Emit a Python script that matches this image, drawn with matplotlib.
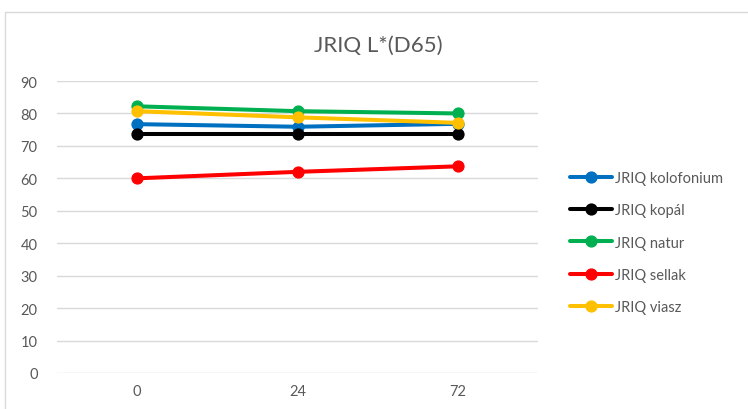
import matplotlib.pyplot as plt
from matplotlib.patches import Rectangle

plt.rcParams['font.family'] = ['Lato', 'DejaVu Sans']

# Adatok
hours = ['0', '24', '72']
kolofonium = [76.7, 75.9, 76.8]
kopal = [73.6, 73.6, 73.6]
natur = [82.2, 80.7, 80.0]
sellak = [60.0, 62.0, 63.7]
viasz = [80.7, 78.8, 77.1]

series = [
    ('JRIQ kolofonium', kolofonium, '#0070C0'),
    ('JRIQ kopál', kopal, '#000000'),
    ('JRIQ natur', natur, '#00B050'),
    ('JRIQ sellak', sellak, '#FF0000'),
    ('JRIQ viasz', viasz, '#FFC000'),
]

fig = plt.figure(figsize=(7.48, 4.10), dpi=100)
fig.patches.append(Rectangle((5 / 748, -0.1), 1.2, 1.1 - 13 / 410,
                             transform=fig.transFigure, fill=False,
                             edgecolor='#D9D9D9', lw=1.0))

ax = fig.add_axes([57 / 748, 1 - 374 / 410, 481 / 748, 292 / 410])
x = range(len(hours))
for name, vals, col in series:
    ax.plot(x, vals, color=col, lw=2.9, marker='o', markersize=7.8, label=name,
            solid_capstyle='round')

ax.set_xlim(-0.5, len(hours) - 0.5)
ax.set_ylim(0, 90)
ax.set_yticks(range(0, 91, 10))
ax.set_xticks(list(x))
ax.set_xticklabels(hours)
ax.grid(axis='y', color='#D9D9D9', lw=1.0)
ax.set_axisbelow(True)
for s in ax.spines.values():
    s.set_visible(False)
ax.tick_params(length=0, labelsize=10.5, labelcolor='#595959')
ax.tick_params(axis='y', pad=14)
ax.tick_params(axis='x', pad=8)

fig.text(378 / 748, 1 - 46 / 410, 'JRIQ L*(D65)', ha='center', va='center',
         fontsize=16, color='#595959')

fig.legend(loc='upper left', bbox_to_anchor=(557 / 748, 1 - 159 / 410),
           frameon=False, fontsize=10.5, labelcolor='#595959',
           handlelength=2.9, handletextpad=0.2, labelspacing=1.25)

fig.savefig('out.png', dpi=100)
